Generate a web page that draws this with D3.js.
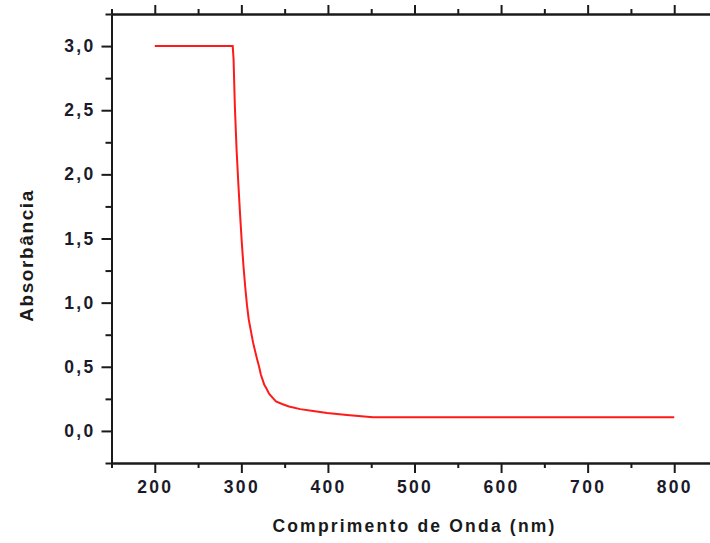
<!DOCTYPE html>
<html>
<head>
<meta charset="utf-8">
<script src="https://cdn.jsdelivr.net/npm/d3@7/dist/d3.min.js"></script>
<style>
  html, body { margin: 0; padding: 0; background: #fff; }
  svg { display: block; }
  .axis path, .axis line { stroke: #1a1a1a; stroke-width: 2; }
  .axis text { font-family: "Liberation Sans", Arial, sans-serif; font-weight: bold; font-size: 17.5px; letter-spacing: 2.3px; fill: #1a1a2a; }
  .title { font-family: "Liberation Sans", Arial, sans-serif; font-weight: bold; fill: #1a1a1a; }
</style>
</head>
<body>
<svg id="chart" width="710" height="543"></svg>
<script>
// Data
const wavelength = [200, 290, 291, 292.5, 294.5, 296.5, 298.5, 300.5, 302.5, 304.5, 306.5, 308.5, 311, 313.5, 316, 318.5, 320.5, 322.5, 324.5, 326.5, 329, 332, 336, 340, 347, 355, 368, 383, 399, 422, 452, 800];
const absorbance = [3.0, 3.0, 2.90, 2.53, 2.19, 1.93, 1.69, 1.47, 1.28, 1.12, 0.98, 0.87, 0.78, 0.69, 0.62, 0.55, 0.50, 0.44, 0.40, 0.36, 0.33, 0.29, 0.26, 0.23, 0.21, 0.19, 0.17, 0.156, 0.14, 0.125, 0.107, 0.107];

const xMajorTicks = [200, 300, 400, 500, 600, 700, 800];
const xMinorTicks = [150, 250, 350, 450, 550, 650, 750, 850];
const yMajorTicks = [0, 0.5, 1.0, 1.5, 2.0, 2.5, 3.0];
const yMinorTicks = [-0.25, 0.25, 0.75, 1.25, 1.75, 2.25, 2.75, 3.25];
const xDomain = [150, 850];
const yDomain = [-0.25, 3.25];
const xTitle = "Comprimento de Onda (nm)";
const yTitle = "Absorbância";

const mLeft = 111.5, mRight = 717.5, mTop = 14, mBottom = 463;
const svg = d3.select("#chart");
const x = d3.scaleLinear().domain(xDomain).range([mLeft, mRight]);
const y = d3.scaleLinear().domain(yDomain).range([mBottom, mTop]);
const fmt = d => d3.format(".1f")(d).replace(".", ",");

// Bottom axis
svg.append("g").attr("class", "axis").attr("transform", `translate(0,${mBottom})`)
  .call(d3.axisBottom(x).tickValues(xMinorTicks).tickSize(5).tickSizeOuter(0).tickFormat(""));
svg.append("g").attr("class", "axis").attr("transform", `translate(0,${mBottom})`)
  .call(d3.axisBottom(x).tickValues(xMajorTicks).tickSize(10).tickSizeOuter(0).tickPadding(8).tickFormat(d3.format("d")));
// Top axis
svg.append("g").attr("class", "axis").attr("transform", `translate(0,${mTop})`)
  .call(d3.axisTop(x).tickValues(xMinorTicks).tickSize(5).tickSizeOuter(0).tickFormat(""));
svg.append("g").attr("class", "axis").attr("transform", `translate(0,${mTop})`)
  .call(d3.axisTop(x).tickValues(xMajorTicks).tickSize(9).tickSizeOuter(0).tickFormat(""));
// Left axis
svg.append("g").attr("class", "axis").attr("transform", `translate(${mLeft},0)`)
  .call(d3.axisLeft(y).tickValues(yMinorTicks).tickSize(6).tickSizeOuter(0).tickFormat(""));
svg.append("g").attr("class", "axis").attr("transform", `translate(${mLeft},0)`)
  .call(d3.axisLeft(y).tickValues(yMajorTicks).tickSize(10).tickSizeOuter(0).tickPadding(6).tickFormat(fmt));
// Right axis (beyond the visible area)
svg.append("g").attr("class", "axis").attr("transform", `translate(${mRight},0)`)
  .call(d3.axisRight(y).tickValues(yMajorTicks).tickSize(0).tickSizeOuter(0).tickFormat(""));

// Curve
const pts = wavelength.map((w, i) => [w, absorbance[i]]);
svg.append("path")
  .datum(pts)
  .attr("fill", "none")
  .attr("stroke", "#ff1a1a")
  .attr("stroke-width", 2)
  .attr("d", d3.line().x(d => x(d[0])).y(d => y(d[1])));

// Titles
svg.append("text").attr("class", "title")
  .attr("x", (mLeft + mRight) / 2).attr("y", 532)
  .attr("text-anchor", "middle")
  .style("font-size", "17.5px").style("letter-spacing", "2.2px")
  .text(xTitle);
svg.append("text").attr("class", "title")
  .attr("transform", `translate(33,${(mTop + mBottom) / 2 + 17}) rotate(-90)`)
  .attr("text-anchor", "middle")
  .style("font-size", "19px").style("letter-spacing", "1.6px")
  .text(yTitle);
</script>
</body>
</html>
